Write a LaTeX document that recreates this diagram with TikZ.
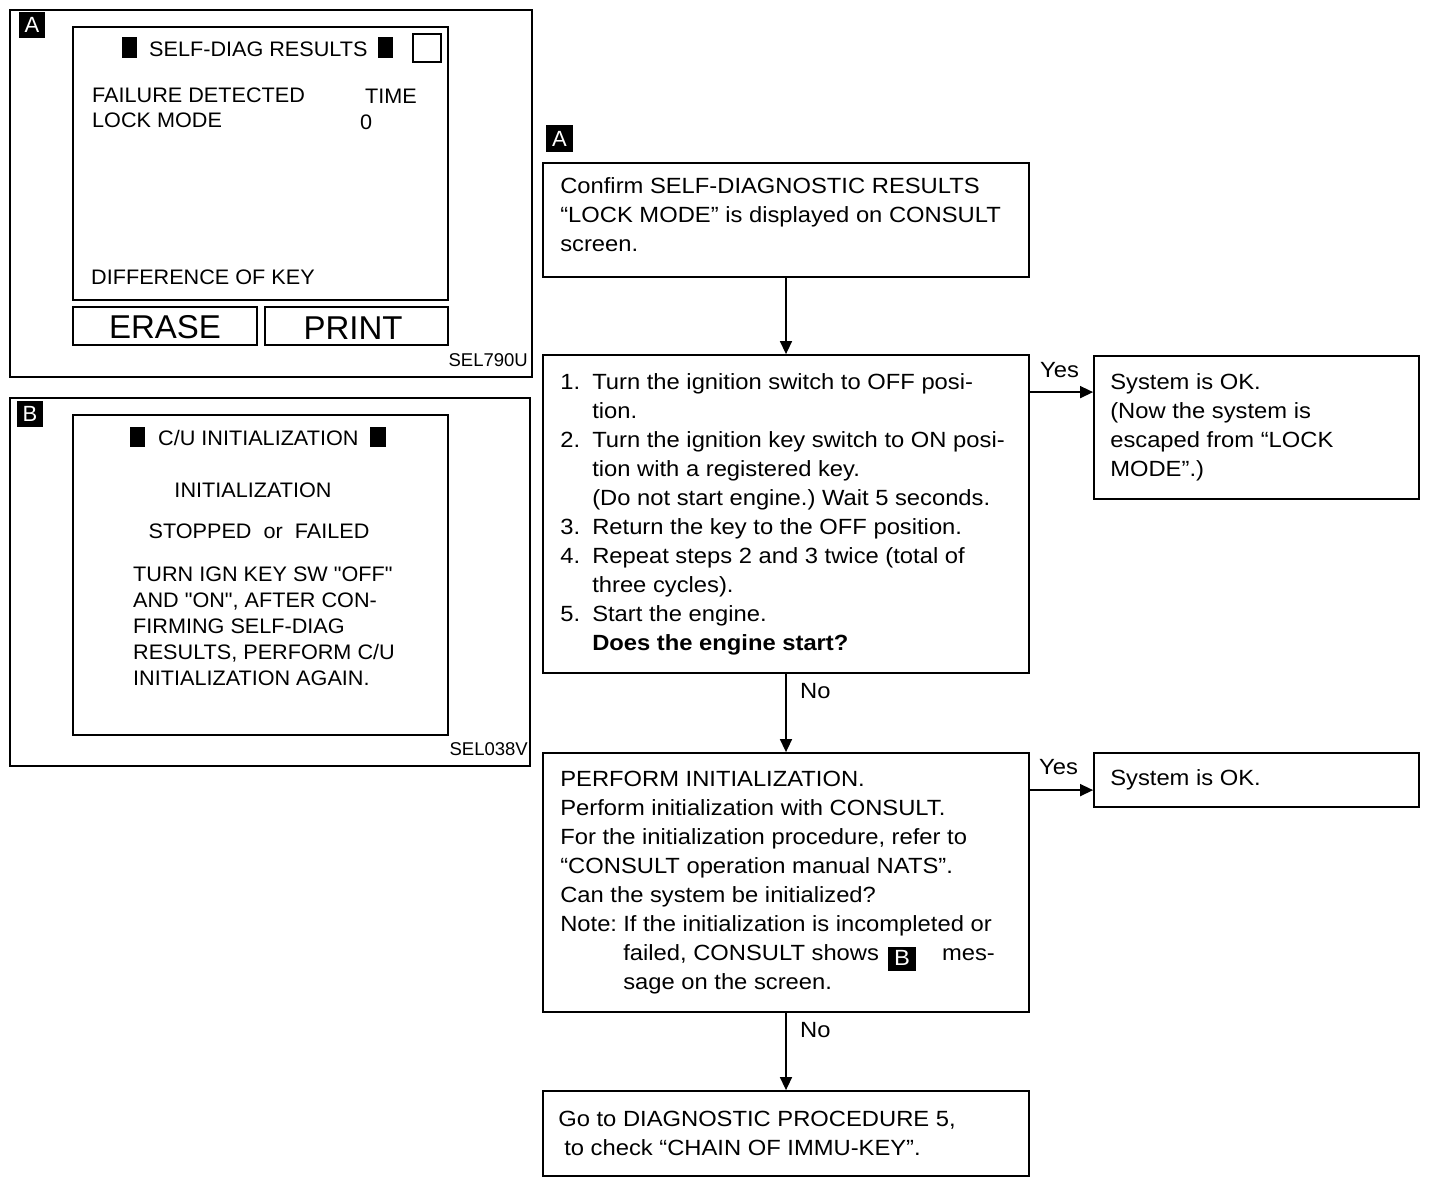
\documentclass[tikz,border=0pt]{standalone}
\usepackage{fontspec}
\setmainfont{Liberation Sans}
\newfontfamily\fwide{Liberation Sans}[FakeStretch=1.08]
\newfontfamily\fscr{Liberation Sans}[FakeStretch=1.03,Ligatures=TeXOff]
\usetikzlibrary{arrows.meta,calc}
\frenchspacing
\newcommand\invB{{\setlength\fboxsep{3pt}\raisebox{-5pt}{\colorbox{black}{\makebox[22pt]{\rule[-3pt]{0pt}{16pt}\textcolor{white}{B}}}}}}
\begin{document}
\begin{tikzpicture}[x=1pt,y=-1pt,
  box/.style={draw,line width=1.8pt,inner sep=0pt},
  ftxt/.style={anchor=west,align=left,inner sep=0pt,font=\fwide\fontsize{22}{29}\selectfont},
  lab/.style={anchor=base west,inner sep=0pt,font=\fwide\fontsize{22}{26}\selectfont},
  arr/.style={line width=1.5pt,-{Triangle[length=13pt,width=12pt]}},
  scr/.style={anchor=base west,inner sep=0pt,font=\fscr\fontsize{21}{26}\selectfont},
  scrc/.style={anchor=base,inner sep=0pt,font=\fscr\fontsize{21}{26}\selectfont},
  code/.style={anchor=base east,inner sep=0pt,font=\fontsize{18.5}{22}\selectfont},
  btn/.style={anchor=base,inner sep=0pt,font=\fontsize{33}{36}\selectfont},
  lbl/.style={fill=black,text=white,inner sep=0pt,minimum width=26pt,minimum height=26pt,font=\fontsize{22}{22}\selectfont}]
\useasboundingbox (0,0) rectangle (1440,1184);
\fill[white] (0,0) rectangle (1440,1184);

% ---------- Panel A ----------
\draw[line width=1.3pt] (10,10) rectangle (532,377);
\node[lbl] (pa) at (32,24.5) {A};
\draw[line width=2.4pt] (73,27) rectangle (448,300);
\draw[line width=2pt] (413,34) rectangle (441,62);
\fill (122,37) rectangle (137,58);
\fill (378,37) rectangle (393,58);
\node[scr] (pat) at (149,56) {SELF-DIAG RESULTS};
\node[scr] (pa1) at (92,102) {FAILURE DETECTED};
\node[scr] (pa2) at (365,103) {TIME};
\node[scr] (pa3) at (92,127) {LOCK MODE};
\node[scr] (pa4) at (360,129) {0};
\node[scr] (pa5) at (91,284) {DIFFERENCE OF KEY};
\draw[line width=2.4pt] (73,307) rectangle (257,345);
\draw[line width=2.4pt] (265,307) rectangle (448,345);
\node[btn] (erase) at (165,338) {ERASE};
\node[btn] (print) at (353,339) {PRINT};
\node[code] (sela) at (528,366) {SEL790U};

% ---------- Panel B ----------
\draw[line width=1.3pt] (10,398) rectangle (530,766);
\node[lbl] (pb) at (30,413.5) {B};
\draw[line width=2.4pt] (73,415) rectangle (448,735);
\fill (130,427) rectangle (145,447);
\fill (370,427) rectangle (386,447);
\node[scr] (pbt) at (158,445) {C/U INITIALIZATION};
\node[scrc] (pb1) at (253,497) {INITIALIZATION};
\node[scrc] (pb2) at (259,538) {STOPPED\ \ or\ \ FAILED};
\foreach \t [count=\i] in {{TURN IGN KEY SW "OFF"},{AND "ON", AFTER CON-},{FIRMING SELF-DIAG},{RESULTS, PERFORM C/U},{INITIALIZATION AGAIN.}}
  \node[scr] (pbl\i) at (133,555+26*\i) {\t};
\node[code] (selb) at (528,755) {SEL038V};

% ---------- Flowchart ----------
\node[lbl,minimum width=27pt,minimum height=27pt] (fa) at (559.5,138.5) {A};

\node[box,minimum width=486pt,minimum height=114pt] (b1) at (786,220) {};
\node[box,minimum width=486pt,minimum height=318pt] (b2) at (786,514) {};
\node[box,minimum width=325pt,minimum height=143pt] (b3) at (1256.5,427.5) {};
\node[box,minimum width=486pt,minimum height=259pt] (b4) at (786,882.5) {};
\node[box,minimum width=325pt,minimum height=54pt] (b5) at (1256.5,780) {};
\node[box,minimum width=486pt,minimum height=85pt] (b6) at (786,1133.5) {};

\node[ftxt] (t1) at ([xshift=18pt,yshift=5pt]b1.west) {Confirm SELF-DIAGNOSTIC RESULTS\\“LOCK MODE” is displayed on CONSULT\\screen.};
\node[ftxt] (t2) at ([xshift=18pt]b2.west) {\makebox[32pt][l]{1.}Turn the ignition switch to OFF posi-\\
\hspace*{32pt}tion.\\
\makebox[32pt][l]{2.}Turn the ignition key switch to ON posi-\\
\hspace*{32pt}tion with a registered key.\\
\hspace*{32pt}(Do not start engine.) Wait 5 seconds.\\
\makebox[32pt][l]{3.}Return the key to the OFF position.\\
\makebox[32pt][l]{4.}Repeat steps 2 and 3 twice (total of\\
\hspace*{32pt}three cycles).\\
\makebox[32pt][l]{5.}Start the engine.\\
\hspace*{32pt}\textbf{Does the engine start?}};
\node[ftxt] (t3) at ([xshift=17pt]b3.west) {System is OK.\\(Now the system is\\escaped from “LOCK\\MODE”.)};
\node[ftxt] (t4) at ([xshift=18pt]b4.west) {PERFORM INITIALIZATION.\\
Perform initialization with CONSULT.\\
For the initialization procedure, refer to\\
“CONSULT operation manual NATS”.\\
Can the system be initialized?\\
\makebox[63pt][l]{Note:}If the initialization is incompleted or\\
\hspace*{63pt}failed, CONSULT shows\hspace{9pt}\invB\hspace{26pt}mes-\\
\hspace*{63pt}sage on the screen.};
\node[ftxt] (t5) at ([xshift=17pt]b5.west) {System is OK.};
\node[ftxt] (t6) at ([xshift=16pt]b6.west) {Go to DIAGNOSTIC PROCEDURE 5,\\\hspace*{6pt}to check “CHAIN OF IMMU-KEY”.};

\draw[arr] (b1.south) -- (b2.north);
\draw[arr] (b2.south) -- (b4.north);
\draw[arr] (b4.south) -- (b6.north);
\coordinate (y1) at ([yshift=-38pt]b2.north east);
\coordinate (y2) at ([yshift=-38pt]b4.north east);
\draw[arr] (y1) -- (y1 -| b3.west);
\draw[arr] (y2) -- (y2 -| b5.west);
\node[lab] (yes1) at (1040,377) {Yes};
\node[lab] (yes2) at (1039,774) {Yes};
\node[lab] (no1) at (800,698) {No};
\node[lab] (no2) at (800,1037) {No};
\end{tikzpicture}
\end{document}
